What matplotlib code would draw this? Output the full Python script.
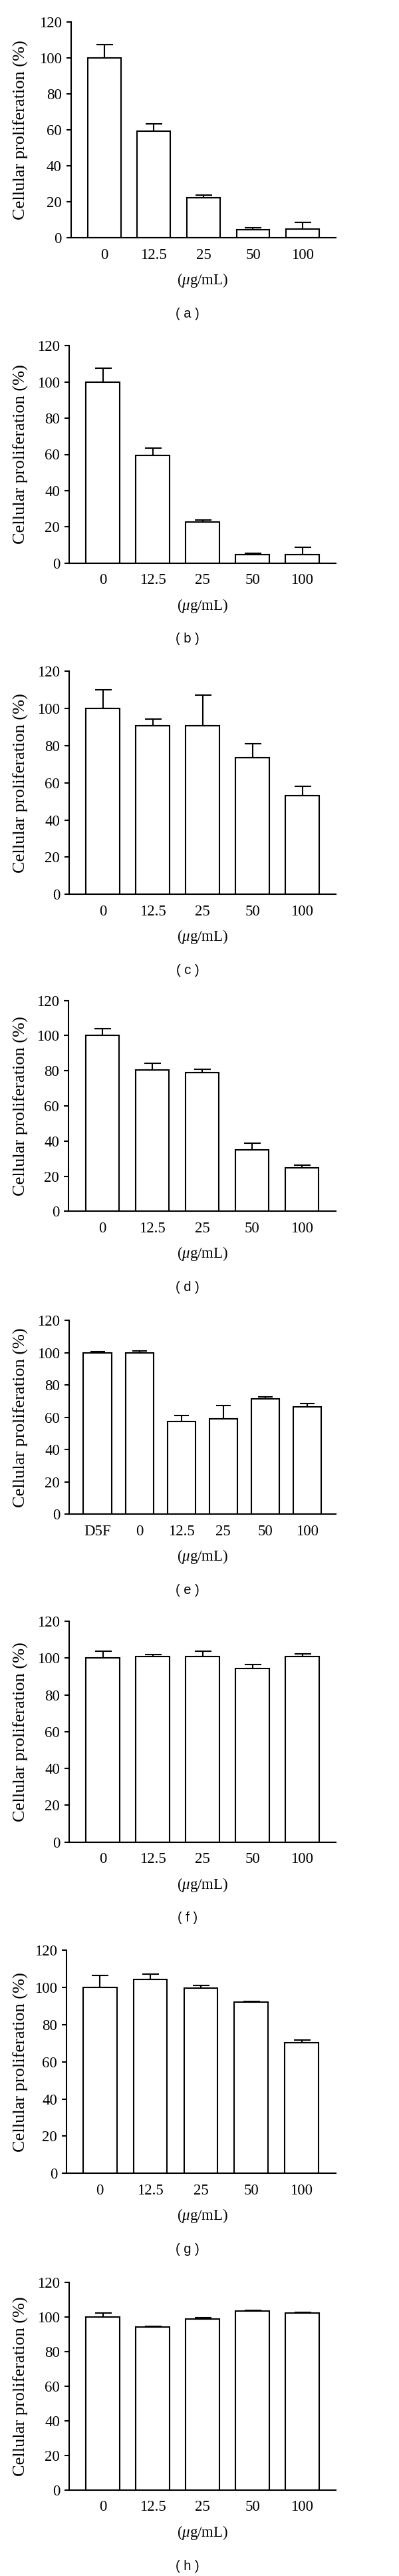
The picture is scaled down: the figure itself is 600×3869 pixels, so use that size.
import matplotlib
matplotlib.use('Agg')
import matplotlib.pyplot as plt
import numpy as np

plt.rcParams['font.family'] = ['Liberation Serif', 'DejaVu Serif']
plt.rcParams['mathtext.fontset'] = 'custom'
plt.rcParams['mathtext.rm'] = 'Liberation Serif'
plt.rcParams['mathtext.it'] = 'Liberation Serif:italic'

# ---------------- data ----------------
conc_labels = ['0', '12.5', '25', '50', '100']
conc_labels_e = ['D5F', '0', '12.5', '25', '50', '100']

a_means = [100, 59.2, 22.5, 4.4, 4.8]
a_err = [7.5, 4.3, 1.3, 1.1, 4.0]
b_means = [100, 59.3, 22.6, 4.5, 4.8]
b_err = [7.6, 4.3, 1.2, 1.0, 4.0]
c_means = [100, 90.6, 90.9, 73.7, 53.0]
c_err = [10.1, 3.8, 16.2, 7.4, 5.0]
d_means = [100, 80.3, 79.0, 34.9, 24.9]
d_err = [3.9, 3.8, 1.9, 3.7, 1.3]
e_means = [100, 100, 57.5, 59.2, 71.3, 66.5]
e_err = [0.9, 1.2, 3.5, 8.2, 1.6, 2.0]
f_means = [100, 100.7, 100.7, 94.2, 101.0]
f_err = [3.7, 1.2, 2.9, 2.3, 1.1]
g_means = [100, 104.5, 99.7, 92.3, 70.4]
g_err = [6.6, 2.6, 1.6, 0.3, 1.5]
h_means = [100, 94.2, 98.7, 103.4, 102.3]
h_err = [2.4, 0.4, 0.8, 0.6, 0.3]

panel_letters = ['a', 'b', 'c', 'd', 'e', 'f', 'g', 'h']
panel_cats = [conc_labels, conc_labels, conc_labels, conc_labels,
              conc_labels_e, conc_labels, conc_labels, conc_labels]
panel_means = [a_means, b_means, c_means, d_means, e_means, f_means, g_means, h_means]
panel_errs = [a_err, b_err, c_err, d_err, e_err, f_err, g_err, h_err]

y_ticks = [0, 20, 40, 60, 80, 100, 120]
y_label = 'Cellular proliferation (%)'
x_label = r'($\mu$g/mL)'

# ---------------- layout (pixels in a 600 x 3869 canvas) ----------------
W, H = 600, 3869
RIGHT = 505
# (left spine x, y of 120 line, y of 0 line, first bar centre, bar spacing)
layout = [
    (106.5, 33.3, 357.3, 156.7, 74.6),
    (104, 519.3, 845.7, 154.5, 75.0),
    (104, 1008.3, 1343.3, 154.5, 75.0),
    (103, 1502.7, 1819.3, 154.0, 75.0),
    (104, 1983.3, 2274.3, 146.5, 63.1),
    (104, 2435.0, 2766.7, 154.5, 75.0),
    (100, 2929.3, 3264.3, 150.3, 75.8),
    (104, 3428.0, 3740.0, 154.5, 75.0),
]

LW = 1.5
fig = plt.figure(figsize=(W / 100, H / 100), dpi=100)

for letter, cats, means, errs, (lpx, tpx, bpx, c0, sp) in zip(
        panel_letters, panel_cats, panel_means, panel_errs, layout):
    wpx = RIGHT - lpx
    hpx = bpx - tpx
    ax = fig.add_axes([lpx / W, 1 - bpx / H, wpx / W, hpx / H])
    n = len(means)
    x = np.arange(n)
    ax.bar(x, means, width=0.667, color='white', edgecolor='black',
           linewidth=LW, zorder=3)
    ax.errorbar(x, means, yerr=[np.zeros(n), errs], fmt='none',
                ecolor='black', elinewidth=LW, capsize=9.0 if n == 5 else 8.0,
                capthick=LW, zorder=2)
    ax.set_xlim((lpx - c0) / sp, (RIGHT - c0) / sp)
    ax.set_ylim(0, 120)
    ax.set_yticks(y_ticks)
    ax.set_xticks(x)
    ax.set_xticklabels(cats)
    for s in ['top', 'right']:
        ax.spines[s].set_visible(False)
    for s in ['left', 'bottom']:
        ax.spines[s].set_linewidth(LW)
        ax.spines[s].set_zorder(4)
    ax.tick_params(axis='y', direction='out', length=5, width=LW,
                   labelsize=16.5, pad=5)
    ax.tick_params(axis='x', length=0, labelsize=16.5, pad=11)
    ax.set_ylabel(y_label, fontsize=19)
    ax.yaxis.label.set_va('center')
    ax.yaxis.set_label_coords((31 - lpx) / wpx, 0.5)
    ax.set_xlabel(x_label, fontsize=16.5)
    ax.xaxis.label.set_va('center')
    ax.xaxis.set_label_coords((304.5 - lpx) / wpx, -64 / hpx)
    ax.text((282 - lpx) / wpx, -114 / hpx, '( %s )' % letter,
            transform=ax.transAxes, ha='center', va='center',
            fontsize=14.5, family='Liberation Sans')

fig.savefig('out.png', dpi=100, facecolor='white')
